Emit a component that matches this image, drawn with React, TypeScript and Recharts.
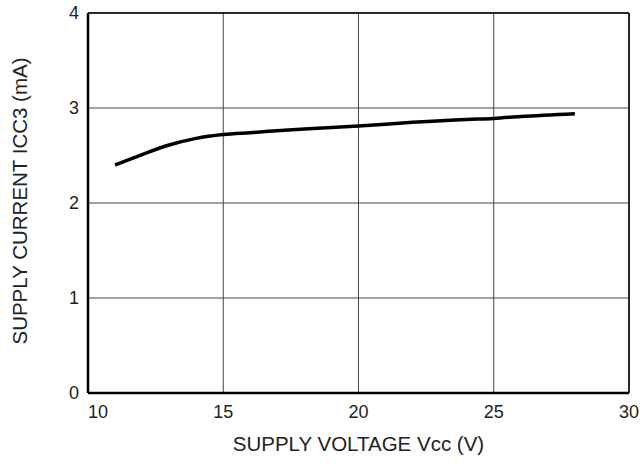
import React from "react";
import {
  LineChart,
  Line,
  XAxis,
  YAxis,
  CartesianGrid,
  ReferenceLine,
} from "recharts";

// supply voltage Vcc (V) and supply current ICC3 (mA)
const voltage = [11, 12, 13, 14, 15, 16, 18, 20, 22, 24, 25, 26, 28];
const current = [2.4, 2.51, 2.61, 2.68, 2.72, 2.74, 2.78, 2.81, 2.85, 2.88, 2.89, 2.91, 2.94];

const xTicks = [10, 15, 20, 25, 30];
const yTicks = [0, 1, 2, 3, 4];

const data = voltage.map((v, i) => ({ vcc: v, icc: current[i] }));

const FONT = "'Liberation Sans', Arial, sans-serif";

const XTick = (props: any) => {
  const { x, y, payload } = props;
  // the first label sits a little right of the axis in the original
  const dx = payload.value === 10 ? 10 : 0;
  return (
    <text x={x + dx} y={y + 23} textAnchor="middle" fontSize={18} fill="#222" fontFamily={FONT}>
      {payload.value}
    </text>
  );
};

const YLabel = (props: any) => {
  const { viewBox } = props;
  const cx = 19;
  const cy = viewBox.y + viewBox.height / 2 - 2;
  return (
    <text
      x={cx}
      y={cy}
      transform={`rotate(-90 ${cx} ${cy})`}
      textAnchor="middle"
      dominantBaseline="central"
      fontSize={20.5}
      fill="#222"
      fontFamily={FONT}
    >
      SUPPLY CURRENT ICC3 (mA)
    </text>
  );
};

export default function App() {
  return (
    <div style={{ position: "absolute", left: 0, top: 0, background: "#fff" }}>
      <LineChart
        width={640}
        height={465}
        data={data}
        margin={{ top: 13, right: 11, left: 28, bottom: 0 }}
        style={{ fontFamily: FONT }}
      >
        <CartesianGrid stroke="#444" strokeWidth={1} />
        <XAxis
          dataKey="vcc"
          type="number"
          domain={[10, 30]}
          ticks={xTicks}
          height={72}
          axisLine={{ stroke: "#000", strokeWidth: 2.5 }}
          tickLine={false}
          tickSize={0}
          tick={<XTick />}
          label={{
            value: "SUPPLY VOLTAGE Vcc (V)",
            position: "insideBottom",
            offset: 14,
            fontSize: 20.5,
            fill: "#222",
          }}
        />
        <YAxis
          type="number"
          domain={[0, 4]}
          ticks={yTicks}
          width={60}
          axisLine={{ stroke: "#000", strokeWidth: 2.5 }}
          tickLine={false}
          tickSize={0}
          tickMargin={9}
          tick={{ fontSize: 18, fill: "#222" }}
          label={<YLabel />}
        />
        <ReferenceLine y={4} stroke="#000" strokeWidth={1.5} />
        <ReferenceLine x={30} stroke="#000" strokeWidth={1.5} />
        <Line
          type="monotone"
          dataKey="icc"
          stroke="#000"
          strokeWidth={3.5}
          dot={false}
          isAnimationActive={false}
        />
      </LineChart>
    </div>
  );
}
